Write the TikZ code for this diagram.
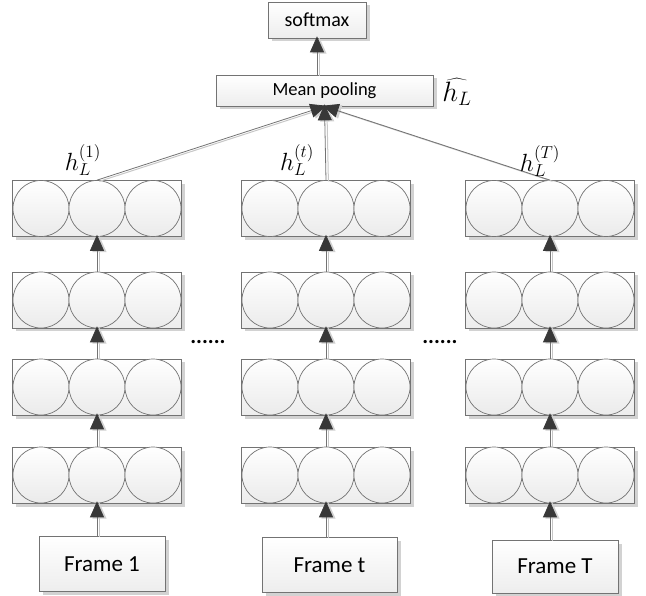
\documentclass[tikz,border=0pt]{standalone}
\usepackage{fontspec}
\setmainfont{Carlito}
\usetikzlibrary{arrows.meta,shadows}

\newcommand\linkto[2]{%
  \draw[connshade] ([xshift=2.4pt,yshift=-1.2pt]#1) -- ([xshift=2.4pt,yshift=-1.2pt]#2);
  \draw[conn] (#1) -- (#2);}
\newcommand\bigmath[2]{\scalebox{#1}{$#2$}}

\begin{document}
\begin{tikzpicture}[x=1pt,y=-1pt,
  boxshade/.style={draw=black!55, line width=0.7pt, top color=white, bottom color=black!7,
    drop shadow={shadow xshift=3.5pt, shadow yshift=-3.5pt, fill=black!25, opacity=0.7}},
  layer/.style={boxshade, minimum width=169pt, minimum height=56pt, inner sep=0pt},
  unit/.style={circle, draw=black!55, line width=0.7pt, top color=white, bottom color=black!8,
    minimum size=56pt, inner sep=0pt},
  labelbox/.style={boxshade, inner sep=0pt, font=\fontsize{23}{26}\selectfont},
  conn/.style={draw=black!55, line width=0.8pt, shorten >=-2pt,
    -{Triangle[length=16pt,width=14pt,color=black!78]}},
  connshade/.style={draw=black!22, line width=1pt, shorten >=-2pt,
    -{Triangle[length=16pt,width=14pt,color=black!18]}},
  mathlabel/.style={inner sep=0pt, font=\fontsize{20.74}{24}\selectfont},
  dots/.style={font=\bfseries\fontsize{22}{24}\selectfont}]
\useasboundingbox (0,0) rectangle (646,596);

% output stage
\node[labelbox, minimum width=98pt, minimum height=36pt, font=\fontsize{20}{23}\selectfont] (soft) at (317,20) {softmax};
\node[labelbox, minimum width=217pt, minimum height=31pt, font=\fontsize{18.5}{22}\selectfont] (mp) at (324.5,90.5) {Mean pooling};
\node[mathlabel] (hhat) at (457,92) {\bigmath{1.35}{\widehat{h_L}}};

% stacked layers, one column per frame
\foreach \c/\x in {1/97,2/326,3/550}{
  \foreach \r/\y in {1/208.5,2/300,3/387,4/475}{
    \node[layer] (L\c\r) at (\x,\y) {};
    \node[unit] (A\c\r) at (\x-56,\y) {};
    \node[unit] (C\c\r) at (\x,\y) {};
    \node[unit] (B\c\r) at (\x+56,\y) {};
  }
}

% input frames
\node[labelbox, minimum width=126pt, minimum height=55pt] (F1) at (102,564) {Frame 1};
\node[labelbox, minimum width=135pt, minimum height=55pt] (F2) at (329.5,565) {Frame t};
\node[labelbox, minimum width=126pt, minimum height=53pt] (F3) at (555,566.5) {Frame T};

% connections inside each column
\foreach \c in {1,2,3}{
  \coordinate (in\c) at (F\c.north -| L\c4.south);
  \linkto{in\c}{L\c4.south}
  \foreach \r/\s in {2/1,3/2,4/3}{
    \linkto{C\c\r.north}{L\c\s.south}
  }
}

% pooling over time
\linkto{C11.north}{mp.south}
\linkto{C21.north}{mp.south}
\linkto{C31.north}{mp.south}
\linkto{mp.north -| soft.south}{soft.south}

% hidden-state labels
\node[mathlabel] (h1) at (83,160) {\bigmath{1.2}{h_L^{(1)}}};
\node[mathlabel] (ht) at (297,160) {\bigmath{1.2}{h_L^{(t)}}};
\node[mathlabel] (hT) at (540,161) {\bigmath{1.2}{h_L^{(T)}}};

% ellipses between columns
\node[dots] (d1) at (208,342) {......};
\node[dots] (d2) at (440,342) {......};
\end{tikzpicture}
\end{document}
